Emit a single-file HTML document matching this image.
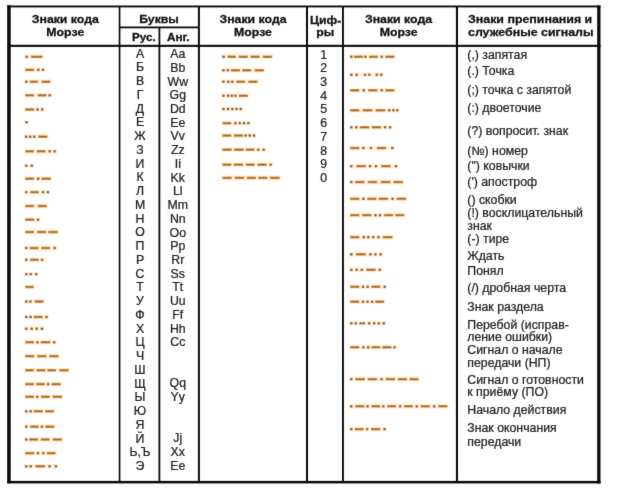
<!DOCTYPE html>
<html lang="ru">
<head>
<meta charset="utf-8">
<title>Азбука Морзе</title>
<style>
html,body{margin:0;padding:0;background:#fff;}
body{width:624px;height:488px;overflow:hidden;position:relative;font-family:"Liberation Sans",Arial,sans-serif;}
#tbl{position:absolute;left:0;top:0;width:624px;height:488px;overflow:hidden;background:#fff;filter:url(#soft);}
#tbl svg{position:absolute;left:0;top:0;}
.t{position:absolute;white-space:nowrap;font-size:12.3px;line-height:14.0px;color:#222;-webkit-text-stroke:0.25px #222;}
.t.b{font-weight:bold;color:#111;-webkit-text-stroke:0.3px #111;}
.t{transform-origin:0 11.26px;transform:scaleY(0.97);}
.t.c{transform-origin:50% 11.26px;transform:translateX(-50%) scaleY(0.97);}
.t.b{transform:scaleY(0.92);}
.t.b.c{transform:translateX(-50%) scaleY(0.92);}
.t.s{font-size:11.7px;}
.t.w{font-size:12.4px;}
.ln{fill:#0a0a0a;}
.h{fill:#96703f;}
.d{fill:#75634f;}
.hg{fill:#f29c44;}
.dg{fill:#efb276;}
.ha{fill:#fdebd6;opacity:.55;}
</style>
</head>
<body>
<div id="tbl">
<svg width="624" height="488" viewBox="0 0 624 488">
<defs><filter id="soft" x="0" y="0" width="100%" height="100%" color-interpolation-filters="sRGB"><feConvolveMatrix order="3" kernelMatrix="0.015 0.06 0.015 0.06 0.70 0.06 0.015 0.06 0.015" divisor="1" edgeMode="duplicate" preserveAlpha="true"/></filter></defs>
<g class="ln">
<rect x="7.2" y="5.5" width="593.3" height="1.9"/>
<rect x="7.2" y="480.9" width="593.3" height="2.5"/>
<rect x="7.2" y="5.3" width="3.5" height="478"/>
<rect x="597.2" y="5.5" width="3.3" height="478"/>
<rect x="7.5" y="44.8" width="593.0" height="2.1"/>
<rect x="118.7" y="6" width="1.7" height="476"/>
<rect x="197.9" y="6" width="2.0" height="476"/>
<rect x="306.0" y="6" width="2.0" height="476"/>
<rect x="342.0" y="6" width="1.9" height="476"/>
<rect x="455.9" y="6" width="2.1" height="476"/>
<rect x="119" y="26.5" width="80" height="1.8"/>
<rect x="158.5" y="27" width="1.8" height="455"/>
</g>
<g id="m1">
<rect class="ha" x="24.2" y="54.2" width="19.7" height="5.2"/>
<rect class="ha" x="23.8" y="67.2" width="21.7" height="5.2"/>
<rect class="ha" x="23.8" y="79.1" width="28.0" height="5.2"/>
<rect class="ha" x="23.8" y="92.7" width="28.3" height="5.2"/>
<rect class="ha" x="23.8" y="106.9" width="20.8" height="5.2"/>
<rect class="ha" x="23.8" y="119.7" width="5.3" height="5.2"/>
<rect class="ha" x="23.8" y="134.1" width="25.0" height="5.2"/>
<rect class="ha" x="23.8" y="148.7" width="33.3" height="5.2"/>
<rect class="ha" x="23.8" y="163.1" width="10.5" height="5.2"/>
<rect class="ha" x="23.8" y="176.1" width="28.3" height="5.2"/>
<rect class="ha" x="23.8" y="189.6" width="26.7" height="5.2"/>
<rect class="ha" x="23.8" y="203.4" width="24.5" height="5.2"/>
<rect class="ha" x="23.8" y="217.1" width="16.7" height="5.2"/>
<rect class="ha" x="23.8" y="229.4" width="35.3" height="5.2"/>
<rect class="ha" x="23.8" y="245.4" width="33.3" height="5.2"/>
<rect class="ha" x="23.8" y="257.2" width="20.8" height="5.2"/>
<rect class="ha" x="23.8" y="271.6" width="15.0" height="5.2"/>
<rect class="ha" x="23.8" y="284.4" width="11.3" height="5.2"/>
<rect class="ha" x="23.8" y="298.9" width="21.2" height="5.2"/>
<rect class="ha" x="23.8" y="314.4" width="25.3" height="5.2"/>
<rect class="ha" x="23.8" y="326.1" width="20.8" height="5.2"/>
<rect class="ha" x="23.8" y="339.7" width="32.8" height="5.2"/>
<rect class="ha" x="23.8" y="353.6" width="36.2" height="5.2"/>
<rect class="ha" x="23.8" y="367.7" width="46.2" height="5.2"/>
<rect class="ha" x="23.8" y="381.6" width="38.3" height="5.2"/>
<rect class="ha" x="23.8" y="394.2" width="39.5" height="5.2"/>
<rect class="ha" x="23.8" y="408.7" width="31.7" height="5.2"/>
<rect class="ha" x="23.8" y="424.1" width="32.0" height="5.2"/>
<rect class="ha" x="23.8" y="436.9" width="39.7" height="5.2"/>
<rect class="ha" x="23.8" y="450.6" width="33.3" height="5.2"/>
<rect class="ha" x="23.8" y="463.7" width="34.7" height="5.2"/>
<rect class="dg" x="25.2" y="55.4" width="3.0" height="2.8"/>
<rect class="hg" x="30.8" y="55.4" width="11.7" height="2.7"/>
<rect class="hg" x="25.1" y="68.5" width="9.1" height="2.7"/>
<rect class="dg" x="36.8" y="68.4" width="3.0" height="2.8"/>
<rect class="dg" x="41.5" y="68.4" width="3.0" height="2.8"/>
<rect class="dg" x="24.8" y="80.3" width="3.0" height="2.8"/>
<rect class="hg" x="29.6" y="80.4" width="8.7" height="2.7"/>
<rect class="hg" x="41.3" y="80.4" width="9.2" height="2.7"/>
<rect class="hg" x="25.1" y="94.0" width="9.1" height="2.7"/>
<rect class="hg" x="37.5" y="94.0" width="9.2" height="2.7"/>
<rect class="dg" x="48.2" y="93.9" width="3.0" height="2.8"/>
<rect class="hg" x="25.1" y="108.2" width="9.1" height="2.7"/>
<rect class="dg" x="36.0" y="108.1" width="3.0" height="2.8"/>
<rect class="dg" x="40.7" y="108.1" width="3.0" height="2.8"/>
<rect class="dg" x="25.0" y="120.9" width="3.0" height="2.8"/>
<rect class="dg" x="24.7" y="135.3" width="3.0" height="2.8"/>
<rect class="dg" x="28.7" y="135.3" width="3.0" height="2.8"/>
<rect class="dg" x="32.8" y="135.3" width="3.0" height="2.8"/>
<rect class="hg" x="38.0" y="135.3" width="9.6" height="2.7"/>
<rect class="hg" x="25.1" y="150.0" width="9.1" height="2.7"/>
<rect class="hg" x="36.6" y="150.0" width="9.2" height="2.7"/>
<rect class="dg" x="48.2" y="149.9" width="3.0" height="2.8"/>
<rect class="dg" x="53.2" y="149.9" width="3.0" height="2.8"/>
<rect class="dg" x="24.8" y="164.3" width="3.0" height="2.8"/>
<rect class="dg" x="30.2" y="164.3" width="3.0" height="2.8"/>
<rect class="hg" x="25.1" y="177.3" width="9.1" height="2.7"/>
<rect class="dg" x="36.7" y="177.3" width="3.0" height="2.8"/>
<rect class="hg" x="41.3" y="177.3" width="9.6" height="2.7"/>
<rect class="dg" x="24.8" y="190.8" width="3.0" height="2.8"/>
<rect class="hg" x="30.0" y="190.8" width="8.9" height="2.7"/>
<rect class="dg" x="41.5" y="190.8" width="3.0" height="2.8"/>
<rect class="dg" x="46.4" y="190.8" width="3.0" height="2.8"/>
<rect class="hg" x="25.1" y="204.7" width="9.1" height="2.7"/>
<rect class="hg" x="37.6" y="204.7" width="9.4" height="2.7"/>
<rect class="hg" x="25.1" y="218.3" width="9.4" height="2.7"/>
<rect class="dg" x="36.5" y="218.3" width="3.0" height="2.8"/>
<rect class="hg" x="25.1" y="230.7" width="9.1" height="2.7"/>
<rect class="hg" x="36.8" y="230.7" width="9.4" height="2.7"/>
<rect class="hg" x="48.0" y="230.7" width="9.9" height="2.7"/>
<rect class="dg" x="24.8" y="246.6" width="3.0" height="2.8"/>
<rect class="hg" x="29.6" y="246.7" width="9.2" height="2.7"/>
<rect class="hg" x="41.0" y="246.7" width="9.4" height="2.7"/>
<rect class="dg" x="53.2" y="246.6" width="3.0" height="2.8"/>
<rect class="dg" x="24.8" y="258.4" width="3.0" height="2.8"/>
<rect class="hg" x="30.0" y="258.4" width="8.9" height="2.7"/>
<rect class="dg" x="40.6" y="258.4" width="3.0" height="2.8"/>
<rect class="dg" x="24.8" y="272.8" width="3.0" height="2.8"/>
<rect class="dg" x="29.2" y="272.8" width="3.0" height="2.8"/>
<rect class="dg" x="34.8" y="272.8" width="3.0" height="2.8"/>
<rect class="hg" x="25.1" y="285.6" width="8.7" height="2.7"/>
<rect class="dg" x="24.8" y="300.1" width="3.0" height="2.8"/>
<rect class="dg" x="28.9" y="300.1" width="3.0" height="2.8"/>
<rect class="hg" x="34.3" y="300.1" width="9.4" height="2.7"/>
<rect class="dg" x="24.8" y="315.6" width="3.0" height="2.8"/>
<rect class="dg" x="29.0" y="315.6" width="3.0" height="2.8"/>
<rect class="hg" x="33.5" y="315.6" width="9.4" height="2.7"/>
<rect class="dg" x="45.0" y="315.6" width="3.0" height="2.8"/>
<rect class="dg" x="24.8" y="327.3" width="3.0" height="2.8"/>
<rect class="dg" x="30.2" y="327.3" width="3.0" height="2.8"/>
<rect class="dg" x="35.2" y="327.3" width="3.0" height="2.8"/>
<rect class="dg" x="40.4" y="327.3" width="3.0" height="2.8"/>
<rect class="hg" x="25.1" y="340.9" width="9.1" height="2.7"/>
<rect class="dg" x="36.0" y="340.9" width="3.0" height="2.8"/>
<rect class="hg" x="40.5" y="340.9" width="9.9" height="2.7"/>
<rect class="dg" x="52.7" y="340.9" width="3.0" height="2.8"/>
<rect class="hg" x="25.1" y="354.8" width="9.4" height="2.7"/>
<rect class="hg" x="37.1" y="354.8" width="9.6" height="2.7"/>
<rect class="hg" x="49.1" y="354.8" width="9.6" height="2.7"/>
<rect class="hg" x="25.1" y="368.9" width="9.1" height="2.7"/>
<rect class="hg" x="36.3" y="368.9" width="9.2" height="2.7"/>
<rect class="hg" x="47.1" y="368.9" width="9.1" height="2.7"/>
<rect class="hg" x="59.1" y="368.9" width="9.6" height="2.7"/>
<rect class="hg" x="25.1" y="382.8" width="9.1" height="2.7"/>
<rect class="hg" x="36.0" y="382.8" width="9.1" height="2.7"/>
<rect class="dg" x="46.6" y="382.8" width="3.0" height="2.8"/>
<rect class="hg" x="51.3" y="382.8" width="9.6" height="2.7"/>
<rect class="hg" x="25.1" y="395.4" width="9.1" height="2.7"/>
<rect class="dg" x="35.8" y="395.4" width="3.0" height="2.8"/>
<rect class="hg" x="40.8" y="395.4" width="9.2" height="2.7"/>
<rect class="hg" x="52.5" y="395.4" width="9.6" height="2.7"/>
<rect class="dg" x="24.8" y="409.9" width="3.0" height="2.8"/>
<rect class="dg" x="29.2" y="409.9" width="3.0" height="2.8"/>
<rect class="hg" x="33.5" y="409.9" width="9.4" height="2.7"/>
<rect class="hg" x="45.0" y="409.9" width="9.2" height="2.7"/>
<rect class="dg" x="24.8" y="425.3" width="3.0" height="2.8"/>
<rect class="hg" x="30.0" y="425.3" width="8.9" height="2.7"/>
<rect class="dg" x="40.4" y="425.3" width="3.0" height="2.8"/>
<rect class="hg" x="45.1" y="425.3" width="9.4" height="2.7"/>
<rect class="dg" x="24.8" y="438.1" width="3.0" height="2.8"/>
<rect class="hg" x="29.1" y="438.1" width="9.2" height="2.7"/>
<rect class="hg" x="40.5" y="438.1" width="9.2" height="2.7"/>
<rect class="hg" x="52.5" y="438.1" width="9.7" height="2.7"/>
<rect class="hg" x="25.1" y="451.8" width="9.4" height="2.7"/>
<rect class="dg" x="36.4" y="451.8" width="3.0" height="2.8"/>
<rect class="dg" x="41.7" y="451.8" width="3.0" height="2.8"/>
<rect class="hg" x="46.6" y="451.8" width="9.2" height="2.7"/>
<rect class="dg" x="24.8" y="464.9" width="3.0" height="2.8"/>
<rect class="dg" x="29.2" y="464.9" width="3.0" height="2.8"/>
<rect class="hg" x="35.1" y="464.9" width="10.2" height="2.7"/>
<rect class="dg" x="48.1" y="464.9" width="3.0" height="2.8"/>
<rect class="dg" x="54.4" y="464.9" width="3.0" height="2.8"/>
<rect class="d" x="25.7" y="55.8" width="2.0" height="1.9"/>
<rect class="h" x="31.5" y="56.1" width="10.3" height="1.4"/>
<rect class="h" x="25.8" y="69.1" width="7.7" height="1.4"/>
<rect class="d" x="37.3" y="68.8" width="2.0" height="1.9"/>
<rect class="d" x="42.0" y="68.8" width="2.0" height="1.9"/>
<rect class="d" x="25.3" y="80.8" width="2.0" height="1.9"/>
<rect class="h" x="30.3" y="81.0" width="7.3" height="1.4"/>
<rect class="h" x="42.0" y="81.0" width="7.8" height="1.4"/>
<rect class="h" x="25.8" y="94.6" width="7.7" height="1.4"/>
<rect class="h" x="38.2" y="94.6" width="7.8" height="1.4"/>
<rect class="d" x="48.7" y="94.3" width="2.0" height="1.9"/>
<rect class="h" x="25.8" y="108.8" width="7.7" height="1.4"/>
<rect class="d" x="36.5" y="108.5" width="2.0" height="1.9"/>
<rect class="d" x="41.2" y="108.5" width="2.0" height="1.9"/>
<rect class="d" x="25.5" y="121.3" width="2.0" height="1.9"/>
<rect class="d" x="25.2" y="135.8" width="2.0" height="1.9"/>
<rect class="d" x="29.2" y="135.8" width="2.0" height="1.9"/>
<rect class="d" x="33.3" y="135.8" width="2.0" height="1.9"/>
<rect class="h" x="38.7" y="136.0" width="8.2" height="1.4"/>
<rect class="h" x="25.8" y="150.6" width="7.7" height="1.4"/>
<rect class="h" x="37.3" y="150.6" width="7.8" height="1.4"/>
<rect class="d" x="48.7" y="150.4" width="2.0" height="1.9"/>
<rect class="d" x="53.7" y="150.4" width="2.0" height="1.9"/>
<rect class="d" x="25.3" y="164.8" width="2.0" height="1.9"/>
<rect class="d" x="30.8" y="164.8" width="2.0" height="1.9"/>
<rect class="h" x="25.8" y="178.0" width="7.7" height="1.4"/>
<rect class="d" x="37.2" y="177.8" width="2.0" height="1.9"/>
<rect class="h" x="42.0" y="178.0" width="8.2" height="1.4"/>
<rect class="d" x="25.3" y="191.2" width="2.0" height="1.9"/>
<rect class="h" x="30.7" y="191.5" width="7.5" height="1.4"/>
<rect class="d" x="42.0" y="191.2" width="2.0" height="1.9"/>
<rect class="d" x="46.9" y="191.2" width="2.0" height="1.9"/>
<rect class="h" x="25.8" y="205.3" width="7.7" height="1.4"/>
<rect class="h" x="38.3" y="205.3" width="8.0" height="1.4"/>
<rect class="h" x="25.8" y="219.0" width="8.0" height="1.4"/>
<rect class="d" x="37.0" y="218.8" width="2.0" height="1.9"/>
<rect class="h" x="25.8" y="231.3" width="7.7" height="1.4"/>
<rect class="h" x="37.5" y="231.3" width="8.0" height="1.4"/>
<rect class="h" x="48.7" y="231.3" width="8.5" height="1.4"/>
<rect class="d" x="25.3" y="247.1" width="2.0" height="1.9"/>
<rect class="h" x="30.3" y="247.3" width="7.8" height="1.4"/>
<rect class="h" x="41.7" y="247.3" width="8.0" height="1.4"/>
<rect class="d" x="53.7" y="247.1" width="2.0" height="1.9"/>
<rect class="d" x="25.3" y="258.9" width="2.0" height="1.9"/>
<rect class="h" x="30.7" y="259.1" width="7.5" height="1.4"/>
<rect class="d" x="41.1" y="258.9" width="2.0" height="1.9"/>
<rect class="d" x="25.3" y="273.2" width="2.0" height="1.9"/>
<rect class="d" x="29.7" y="273.2" width="2.0" height="1.9"/>
<rect class="d" x="35.2" y="273.2" width="2.0" height="1.9"/>
<rect class="h" x="25.8" y="286.3" width="7.3" height="1.4"/>
<rect class="d" x="25.3" y="300.6" width="2.0" height="1.9"/>
<rect class="d" x="29.4" y="300.6" width="2.0" height="1.9"/>
<rect class="h" x="35.0" y="300.8" width="8.0" height="1.4"/>
<rect class="d" x="25.3" y="316.1" width="2.0" height="1.9"/>
<rect class="d" x="29.5" y="316.1" width="2.0" height="1.9"/>
<rect class="h" x="34.2" y="316.3" width="8.0" height="1.4"/>
<rect class="d" x="45.5" y="316.1" width="2.0" height="1.9"/>
<rect class="d" x="25.3" y="327.8" width="2.0" height="1.9"/>
<rect class="d" x="30.8" y="327.8" width="2.0" height="1.9"/>
<rect class="d" x="35.8" y="327.8" width="2.0" height="1.9"/>
<rect class="d" x="40.9" y="327.8" width="2.0" height="1.9"/>
<rect class="h" x="25.8" y="341.6" width="7.7" height="1.4"/>
<rect class="d" x="36.5" y="341.4" width="2.0" height="1.9"/>
<rect class="h" x="41.2" y="341.6" width="8.5" height="1.4"/>
<rect class="d" x="53.2" y="341.4" width="2.0" height="1.9"/>
<rect class="h" x="25.8" y="355.5" width="8.0" height="1.4"/>
<rect class="h" x="37.8" y="355.5" width="8.2" height="1.4"/>
<rect class="h" x="49.8" y="355.5" width="8.2" height="1.4"/>
<rect class="h" x="25.8" y="369.6" width="7.7" height="1.4"/>
<rect class="h" x="37.0" y="369.6" width="7.8" height="1.4"/>
<rect class="h" x="47.8" y="369.6" width="7.7" height="1.4"/>
<rect class="h" x="59.8" y="369.6" width="8.2" height="1.4"/>
<rect class="h" x="25.8" y="383.5" width="7.7" height="1.4"/>
<rect class="h" x="36.7" y="383.5" width="7.7" height="1.4"/>
<rect class="d" x="47.1" y="383.2" width="2.0" height="1.9"/>
<rect class="h" x="52.0" y="383.5" width="8.2" height="1.4"/>
<rect class="h" x="25.8" y="396.1" width="7.7" height="1.4"/>
<rect class="d" x="36.3" y="395.9" width="2.0" height="1.9"/>
<rect class="h" x="41.5" y="396.1" width="7.8" height="1.4"/>
<rect class="h" x="53.2" y="396.1" width="8.2" height="1.4"/>
<rect class="d" x="25.3" y="410.4" width="2.0" height="1.9"/>
<rect class="d" x="29.7" y="410.4" width="2.0" height="1.9"/>
<rect class="h" x="34.2" y="410.6" width="8.0" height="1.4"/>
<rect class="h" x="45.7" y="410.6" width="7.8" height="1.4"/>
<rect class="d" x="25.3" y="425.8" width="2.0" height="1.9"/>
<rect class="h" x="30.7" y="426.0" width="7.5" height="1.4"/>
<rect class="d" x="40.9" y="425.8" width="2.0" height="1.9"/>
<rect class="h" x="45.8" y="426.0" width="8.0" height="1.4"/>
<rect class="d" x="25.3" y="438.6" width="2.0" height="1.9"/>
<rect class="h" x="29.8" y="438.8" width="7.8" height="1.4"/>
<rect class="h" x="41.2" y="438.8" width="7.8" height="1.4"/>
<rect class="h" x="53.2" y="438.8" width="8.3" height="1.4"/>
<rect class="h" x="25.8" y="452.5" width="8.0" height="1.4"/>
<rect class="d" x="36.9" y="452.2" width="2.0" height="1.9"/>
<rect class="d" x="42.2" y="452.2" width="2.0" height="1.9"/>
<rect class="h" x="47.3" y="452.5" width="7.8" height="1.4"/>
<rect class="d" x="25.3" y="465.4" width="2.0" height="1.9"/>
<rect class="d" x="29.7" y="465.4" width="2.0" height="1.9"/>
<rect class="h" x="35.8" y="465.6" width="8.8" height="1.4"/>
<rect class="d" x="48.6" y="465.4" width="2.0" height="1.9"/>
<rect class="d" x="54.9" y="465.4" width="2.0" height="1.9"/>
</g>
<g id="m2">
<rect class="ha" x="221.0" y="54.2" width="52.5" height="5.2"/>
<rect class="ha" x="221.0" y="67.7" width="44.3" height="5.2"/>
<rect class="ha" x="221.0" y="79.1" width="38.0" height="5.2"/>
<rect class="ha" x="221.0" y="93.1" width="28.3" height="5.2"/>
<rect class="ha" x="221.0" y="106.4" width="22.2" height="5.2"/>
<rect class="ha" x="221.0" y="120.6" width="30.0" height="5.2"/>
<rect class="ha" x="221.0" y="132.9" width="35.5" height="5.2"/>
<rect class="ha" x="221.0" y="147.1" width="45.2" height="5.2"/>
<rect class="ha" x="221.0" y="162.1" width="52.2" height="5.2"/>
<rect class="ha" x="221.0" y="175.2" width="60.2" height="5.2"/>
<rect class="dg" x="222.1" y="55.4" width="3.0" height="2.8"/>
<rect class="hg" x="227.3" y="55.4" width="8.7" height="2.7"/>
<rect class="hg" x="238.5" y="55.4" width="9.6" height="2.7"/>
<rect class="hg" x="250.3" y="55.4" width="9.6" height="2.7"/>
<rect class="hg" x="262.6" y="55.4" width="9.6" height="2.7"/>
<rect class="dg" x="222.0" y="68.9" width="3.0" height="2.8"/>
<rect class="dg" x="226.2" y="68.9" width="3.0" height="2.8"/>
<rect class="hg" x="230.6" y="69.0" width="9.6" height="2.7"/>
<rect class="hg" x="242.0" y="69.0" width="9.4" height="2.7"/>
<rect class="hg" x="254.5" y="69.0" width="9.6" height="2.7"/>
<rect class="dg" x="222.0" y="80.3" width="3.0" height="2.8"/>
<rect class="dg" x="226.7" y="80.3" width="3.0" height="2.8"/>
<rect class="dg" x="230.8" y="80.3" width="3.0" height="2.8"/>
<rect class="hg" x="236.0" y="80.4" width="9.2" height="2.7"/>
<rect class="hg" x="248.1" y="80.4" width="9.6" height="2.7"/>
<rect class="dg" x="222.0" y="94.3" width="3.0" height="2.8"/>
<rect class="dg" x="226.5" y="94.3" width="3.0" height="2.8"/>
<rect class="dg" x="230.3" y="94.3" width="3.0" height="2.8"/>
<rect class="dg" x="233.9" y="94.3" width="3.0" height="2.8"/>
<rect class="hg" x="238.6" y="94.4" width="9.4" height="2.7"/>
<rect class="dg" x="222.0" y="107.6" width="3.0" height="2.8"/>
<rect class="dg" x="226.5" y="107.6" width="3.0" height="2.8"/>
<rect class="dg" x="230.8" y="107.6" width="3.0" height="2.8"/>
<rect class="dg" x="235.0" y="107.6" width="3.0" height="2.8"/>
<rect class="dg" x="239.2" y="107.6" width="3.0" height="2.8"/>
<rect class="hg" x="222.3" y="121.9" width="9.2" height="2.7"/>
<rect class="dg" x="233.9" y="121.8" width="3.0" height="2.8"/>
<rect class="dg" x="238.3" y="121.8" width="3.0" height="2.8"/>
<rect class="dg" x="242.5" y="121.8" width="3.0" height="2.8"/>
<rect class="dg" x="246.8" y="121.8" width="3.0" height="2.8"/>
<rect class="hg" x="222.3" y="134.2" width="9.2" height="2.7"/>
<rect class="hg" x="233.6" y="134.2" width="9.6" height="2.7"/>
<rect class="dg" x="244.2" y="134.1" width="3.0" height="2.8"/>
<rect class="dg" x="248.2" y="134.1" width="3.0" height="2.8"/>
<rect class="dg" x="252.5" y="134.1" width="3.0" height="2.8"/>
<rect class="hg" x="222.3" y="148.3" width="9.6" height="2.7"/>
<rect class="hg" x="234.0" y="148.3" width="9.9" height="2.7"/>
<rect class="hg" x="245.6" y="148.3" width="9.1" height="2.7"/>
<rect class="dg" x="256.8" y="148.3" width="3.0" height="2.8"/>
<rect class="dg" x="262.1" y="148.3" width="3.0" height="2.8"/>
<rect class="hg" x="222.3" y="163.3" width="9.2" height="2.7"/>
<rect class="hg" x="233.6" y="163.3" width="9.6" height="2.7"/>
<rect class="hg" x="245.6" y="163.3" width="9.2" height="2.7"/>
<rect class="hg" x="257.3" y="163.3" width="9.6" height="2.7"/>
<rect class="dg" x="269.1" y="163.3" width="3.0" height="2.8"/>
<rect class="hg" x="222.3" y="176.5" width="9.6" height="2.7"/>
<rect class="hg" x="234.5" y="176.5" width="9.9" height="2.7"/>
<rect class="hg" x="246.5" y="176.5" width="9.6" height="2.7"/>
<rect class="hg" x="258.1" y="176.5" width="9.6" height="2.7"/>
<rect class="hg" x="269.8" y="176.5" width="10.1" height="2.7"/>
<rect class="d" x="222.6" y="55.8" width="2.0" height="1.9"/>
<rect class="h" x="228.0" y="56.1" width="7.3" height="1.4"/>
<rect class="h" x="239.2" y="56.1" width="8.2" height="1.4"/>
<rect class="h" x="251.0" y="56.1" width="8.2" height="1.4"/>
<rect class="h" x="263.3" y="56.1" width="8.2" height="1.4"/>
<rect class="d" x="222.5" y="69.3" width="2.0" height="1.9"/>
<rect class="d" x="226.8" y="69.3" width="2.0" height="1.9"/>
<rect class="h" x="231.3" y="69.6" width="8.2" height="1.4"/>
<rect class="h" x="242.7" y="69.6" width="8.0" height="1.4"/>
<rect class="h" x="255.2" y="69.6" width="8.2" height="1.4"/>
<rect class="d" x="222.5" y="80.8" width="2.0" height="1.9"/>
<rect class="d" x="227.2" y="80.8" width="2.0" height="1.9"/>
<rect class="d" x="231.3" y="80.8" width="2.0" height="1.9"/>
<rect class="h" x="236.7" y="81.0" width="7.8" height="1.4"/>
<rect class="h" x="248.8" y="81.0" width="8.2" height="1.4"/>
<rect class="d" x="222.5" y="94.8" width="2.0" height="1.9"/>
<rect class="d" x="227.0" y="94.8" width="2.0" height="1.9"/>
<rect class="d" x="230.8" y="94.8" width="2.0" height="1.9"/>
<rect class="d" x="234.4" y="94.8" width="2.0" height="1.9"/>
<rect class="h" x="239.3" y="95.0" width="8.0" height="1.4"/>
<rect class="d" x="222.5" y="108.0" width="2.0" height="1.9"/>
<rect class="d" x="227.0" y="108.0" width="2.0" height="1.9"/>
<rect class="d" x="231.3" y="108.0" width="2.0" height="1.9"/>
<rect class="d" x="235.5" y="108.0" width="2.0" height="1.9"/>
<rect class="d" x="239.7" y="108.0" width="2.0" height="1.9"/>
<rect class="h" x="223.0" y="122.5" width="7.8" height="1.4"/>
<rect class="d" x="234.4" y="122.2" width="2.0" height="1.9"/>
<rect class="d" x="238.8" y="122.2" width="2.0" height="1.9"/>
<rect class="d" x="243.0" y="122.2" width="2.0" height="1.9"/>
<rect class="d" x="247.3" y="122.2" width="2.0" height="1.9"/>
<rect class="h" x="223.0" y="134.8" width="7.8" height="1.4"/>
<rect class="h" x="234.3" y="134.8" width="8.2" height="1.4"/>
<rect class="d" x="244.7" y="134.6" width="2.0" height="1.9"/>
<rect class="d" x="248.8" y="134.6" width="2.0" height="1.9"/>
<rect class="d" x="253.0" y="134.6" width="2.0" height="1.9"/>
<rect class="h" x="223.0" y="149.0" width="8.2" height="1.4"/>
<rect class="h" x="234.7" y="149.0" width="8.5" height="1.4"/>
<rect class="h" x="246.3" y="149.0" width="7.7" height="1.4"/>
<rect class="d" x="257.3" y="148.8" width="2.0" height="1.9"/>
<rect class="d" x="262.6" y="148.8" width="2.0" height="1.9"/>
<rect class="h" x="223.0" y="164.0" width="7.8" height="1.4"/>
<rect class="h" x="234.3" y="164.0" width="8.2" height="1.4"/>
<rect class="h" x="246.3" y="164.0" width="7.8" height="1.4"/>
<rect class="h" x="258.0" y="164.0" width="8.2" height="1.4"/>
<rect class="d" x="269.6" y="163.8" width="2.0" height="1.9"/>
<rect class="h" x="223.0" y="177.1" width="8.2" height="1.4"/>
<rect class="h" x="235.2" y="177.1" width="8.5" height="1.4"/>
<rect class="h" x="247.2" y="177.1" width="8.2" height="1.4"/>
<rect class="h" x="258.8" y="177.1" width="8.2" height="1.4"/>
<rect class="h" x="270.5" y="177.1" width="8.7" height="1.4"/>
</g>
<g id="m3">
<rect class="ha" x="348.8" y="54.2" width="47.0" height="5.2"/>
<rect class="ha" x="348.8" y="72.2" width="35.0" height="5.2"/>
<rect class="ha" x="348.8" y="87.7" width="47.0" height="5.2"/>
<rect class="ha" x="348.8" y="107.7" width="51.2" height="5.2"/>
<rect class="ha" x="348.8" y="124.7" width="43.8" height="5.2"/>
<rect class="ha" x="348.8" y="145.4" width="46.2" height="5.2"/>
<rect class="ha" x="348.8" y="163.6" width="49.7" height="5.2"/>
<rect class="ha" x="348.8" y="179.4" width="55.5" height="5.2"/>
<rect class="ha" x="348.8" y="196.2" width="58.7" height="5.2"/>
<rect class="ha" x="348.8" y="212.6" width="57.0" height="5.2"/>
<rect class="ha" x="348.8" y="234.6" width="45.0" height="5.2"/>
<rect class="ha" x="348.8" y="251.7" width="34.5" height="5.2"/>
<rect class="ha" x="348.8" y="267.2" width="33.7" height="5.2"/>
<rect class="ha" x="348.8" y="284.2" width="38.3" height="5.2"/>
<rect class="ha" x="348.8" y="299.1" width="36.7" height="5.2"/>
<rect class="ha" x="348.8" y="320.7" width="37.5" height="5.2"/>
<rect class="ha" x="348.8" y="344.7" width="48.3" height="5.2"/>
<rect class="ha" x="348.8" y="376.6" width="71.2" height="5.2"/>
<rect class="ha" x="348.8" y="403.7" width="100.0" height="5.2"/>
<rect class="ha" x="348.8" y="426.6" width="38.3" height="5.2"/>
<rect class="dg" x="349.8" y="55.4" width="3.0" height="2.8"/>
<rect class="hg" x="353.8" y="55.4" width="9.2" height="2.7"/>
<rect class="dg" x="363.8" y="55.4" width="3.0" height="2.8"/>
<rect class="hg" x="368.8" y="55.4" width="9.2" height="2.7"/>
<rect class="dg" x="380.2" y="55.4" width="3.0" height="2.8"/>
<rect class="hg" x="385.1" y="55.4" width="9.4" height="2.7"/>
<rect class="dg" x="349.8" y="73.4" width="3.0" height="2.8"/>
<rect class="dg" x="355.2" y="73.4" width="3.0" height="2.8"/>
<rect class="dg" x="363.5" y="73.4" width="3.0" height="2.8"/>
<rect class="dg" x="367.8" y="73.4" width="3.0" height="2.8"/>
<rect class="dg" x="375.2" y="73.4" width="3.0" height="2.8"/>
<rect class="dg" x="379.8" y="73.4" width="3.0" height="2.8"/>
<rect class="hg" x="350.1" y="89.0" width="9.4" height="2.7"/>
<rect class="dg" x="362.2" y="88.9" width="3.0" height="2.8"/>
<rect class="hg" x="368.0" y="89.0" width="9.6" height="2.7"/>
<rect class="dg" x="380.2" y="88.9" width="3.0" height="2.8"/>
<rect class="hg" x="385.1" y="89.0" width="9.4" height="2.7"/>
<rect class="hg" x="350.1" y="109.0" width="9.4" height="2.7"/>
<rect class="hg" x="362.6" y="109.0" width="9.9" height="2.7"/>
<rect class="hg" x="375.5" y="109.0" width="9.9" height="2.7"/>
<rect class="dg" x="387.7" y="108.9" width="3.0" height="2.8"/>
<rect class="dg" x="391.8" y="108.9" width="3.0" height="2.8"/>
<rect class="dg" x="395.8" y="108.9" width="3.0" height="2.8"/>
<rect class="dg" x="349.8" y="125.9" width="3.0" height="2.8"/>
<rect class="dg" x="354.8" y="125.9" width="3.0" height="2.8"/>
<rect class="hg" x="359.6" y="126.0" width="9.9" height="2.7"/>
<rect class="hg" x="371.6" y="126.0" width="9.6" height="2.7"/>
<rect class="dg" x="383.6" y="125.9" width="3.0" height="2.8"/>
<rect class="dg" x="388.6" y="125.9" width="3.0" height="2.8"/>
<rect class="hg" x="350.1" y="146.7" width="9.4" height="2.7"/>
<rect class="dg" x="361.9" y="146.6" width="3.0" height="2.8"/>
<rect class="dg" x="369.4" y="146.6" width="3.0" height="2.8"/>
<rect class="hg" x="376.6" y="146.7" width="9.6" height="2.7"/>
<rect class="dg" x="390.8" y="146.6" width="3.0" height="2.8"/>
<rect class="dg" x="349.8" y="164.8" width="3.0" height="2.8"/>
<rect class="hg" x="356.3" y="164.8" width="9.6" height="2.7"/>
<rect class="dg" x="368.5" y="164.8" width="3.0" height="2.8"/>
<rect class="dg" x="374.4" y="164.8" width="3.0" height="2.8"/>
<rect class="hg" x="381.0" y="164.8" width="9.9" height="2.7"/>
<rect class="dg" x="394.4" y="164.8" width="3.0" height="2.8"/>
<rect class="dg" x="349.8" y="180.6" width="3.0" height="2.8"/>
<rect class="hg" x="355.0" y="180.7" width="9.7" height="2.7"/>
<rect class="hg" x="367.6" y="180.7" width="9.9" height="2.7"/>
<rect class="hg" x="380.5" y="180.7" width="10.1" height="2.7"/>
<rect class="hg" x="393.3" y="180.7" width="9.7" height="2.7"/>
<rect class="hg" x="350.1" y="197.5" width="9.4" height="2.7"/>
<rect class="dg" x="361.9" y="197.4" width="3.0" height="2.8"/>
<rect class="hg" x="367.1" y="197.5" width="9.6" height="2.7"/>
<rect class="hg" x="378.3" y="197.5" width="10.1" height="2.7"/>
<rect class="dg" x="391.0" y="197.4" width="3.0" height="2.8"/>
<rect class="hg" x="396.3" y="197.5" width="9.9" height="2.7"/>
<rect class="hg" x="350.1" y="213.8" width="9.4" height="2.7"/>
<rect class="hg" x="362.1" y="213.8" width="9.6" height="2.7"/>
<rect class="dg" x="374.0" y="213.8" width="3.0" height="2.8"/>
<rect class="dg" x="378.5" y="213.8" width="3.0" height="2.8"/>
<rect class="hg" x="383.8" y="213.8" width="9.6" height="2.7"/>
<rect class="hg" x="395.1" y="213.8" width="9.4" height="2.7"/>
<rect class="hg" x="350.1" y="235.8" width="9.4" height="2.7"/>
<rect class="dg" x="362.2" y="235.8" width="3.0" height="2.8"/>
<rect class="dg" x="366.8" y="235.8" width="3.0" height="2.8"/>
<rect class="dg" x="371.8" y="235.8" width="3.0" height="2.8"/>
<rect class="dg" x="376.9" y="235.8" width="3.0" height="2.8"/>
<rect class="hg" x="382.6" y="235.8" width="9.9" height="2.7"/>
<rect class="dg" x="349.8" y="252.9" width="3.0" height="2.8"/>
<rect class="hg" x="355.8" y="253.0" width="10.1" height="2.7"/>
<rect class="dg" x="368.9" y="252.9" width="3.0" height="2.8"/>
<rect class="dg" x="373.9" y="252.9" width="3.0" height="2.8"/>
<rect class="dg" x="379.1" y="252.9" width="3.0" height="2.8"/>
<rect class="dg" x="349.8" y="268.4" width="3.0" height="2.8"/>
<rect class="dg" x="355.2" y="268.4" width="3.0" height="2.8"/>
<rect class="dg" x="360.2" y="268.4" width="3.0" height="2.8"/>
<rect class="hg" x="366.0" y="268.4" width="9.9" height="2.7"/>
<rect class="dg" x="378.3" y="268.4" width="3.0" height="2.8"/>
<rect class="hg" x="350.1" y="285.4" width="9.4" height="2.7"/>
<rect class="dg" x="361.5" y="285.4" width="3.0" height="2.8"/>
<rect class="dg" x="366.1" y="285.4" width="3.0" height="2.8"/>
<rect class="hg" x="371.3" y="285.4" width="9.2" height="2.7"/>
<rect class="dg" x="383.2" y="285.4" width="3.0" height="2.8"/>
<rect class="hg" x="350.1" y="300.3" width="9.4" height="2.7"/>
<rect class="dg" x="361.5" y="300.3" width="3.0" height="2.8"/>
<rect class="dg" x="366.1" y="300.3" width="3.0" height="2.8"/>
<rect class="dg" x="370.6" y="300.3" width="3.0" height="2.8"/>
<rect class="hg" x="375.0" y="300.3" width="9.2" height="2.7"/>
<rect class="dg" x="349.8" y="321.9" width="3.0" height="2.8"/>
<rect class="dg" x="354.3" y="321.9" width="3.0" height="2.8"/>
<rect class="dg" x="359.3" y="321.9" width="3.0" height="2.8"/>
<rect class="dg" x="362.2" y="321.9" width="3.0" height="2.8"/>
<rect class="dg" x="367.7" y="321.9" width="3.0" height="2.8"/>
<rect class="dg" x="372.7" y="321.9" width="3.0" height="2.8"/>
<rect class="dg" x="377.3" y="321.9" width="3.0" height="2.8"/>
<rect class="dg" x="382.2" y="321.9" width="3.0" height="2.8"/>
<rect class="hg" x="350.1" y="345.9" width="9.4" height="2.7"/>
<rect class="dg" x="361.9" y="345.9" width="3.0" height="2.8"/>
<rect class="dg" x="366.7" y="345.9" width="3.0" height="2.8"/>
<rect class="hg" x="371.3" y="345.9" width="9.2" height="2.7"/>
<rect class="hg" x="382.1" y="345.9" width="9.6" height="2.7"/>
<rect class="dg" x="393.1" y="345.9" width="3.0" height="2.8"/>
<rect class="dg" x="349.8" y="377.8" width="3.0" height="2.8"/>
<rect class="hg" x="355.1" y="377.8" width="9.9" height="2.7"/>
<rect class="hg" x="367.6" y="377.8" width="9.6" height="2.7"/>
<rect class="dg" x="380.0" y="377.8" width="3.0" height="2.8"/>
<rect class="hg" x="385.5" y="377.8" width="9.6" height="2.7"/>
<rect class="hg" x="397.5" y="377.8" width="9.7" height="2.7"/>
<rect class="hg" x="409.3" y="377.8" width="9.4" height="2.7"/>
<rect class="dg" x="349.8" y="404.9" width="3.0" height="2.8"/>
<rect class="hg" x="355.1" y="404.9" width="9.6" height="2.7"/>
<rect class="dg" x="366.1" y="404.9" width="3.0" height="2.8"/>
<rect class="hg" x="371.3" y="404.9" width="9.1" height="2.7"/>
<rect class="dg" x="381.8" y="404.9" width="3.0" height="2.8"/>
<rect class="hg" x="387.1" y="404.9" width="9.2" height="2.7"/>
<rect class="dg" x="398.6" y="404.9" width="3.0" height="2.8"/>
<rect class="hg" x="403.8" y="404.9" width="9.2" height="2.7"/>
<rect class="dg" x="415.2" y="404.9" width="3.0" height="2.8"/>
<rect class="hg" x="420.5" y="404.9" width="9.6" height="2.7"/>
<rect class="dg" x="432.8" y="404.9" width="3.0" height="2.8"/>
<rect class="hg" x="438.0" y="404.9" width="9.6" height="2.7"/>
<rect class="dg" x="349.8" y="427.8" width="3.0" height="2.8"/>
<rect class="hg" x="354.6" y="427.8" width="9.2" height="2.7"/>
<rect class="dg" x="365.6" y="427.8" width="3.0" height="2.8"/>
<rect class="hg" x="370.8" y="427.8" width="9.6" height="2.7"/>
<rect class="dg" x="383.1" y="427.8" width="3.0" height="2.8"/>
<rect class="d" x="350.3" y="55.8" width="2.0" height="1.9"/>
<rect class="h" x="354.5" y="56.1" width="7.8" height="1.4"/>
<rect class="d" x="364.3" y="55.8" width="2.0" height="1.9"/>
<rect class="h" x="369.5" y="56.1" width="7.8" height="1.4"/>
<rect class="d" x="380.7" y="55.8" width="2.0" height="1.9"/>
<rect class="h" x="385.8" y="56.1" width="8.0" height="1.4"/>
<rect class="d" x="350.3" y="73.8" width="2.0" height="1.9"/>
<rect class="d" x="355.8" y="73.8" width="2.0" height="1.9"/>
<rect class="d" x="364.0" y="73.8" width="2.0" height="1.9"/>
<rect class="d" x="368.2" y="73.8" width="2.0" height="1.9"/>
<rect class="d" x="375.8" y="73.8" width="2.0" height="1.9"/>
<rect class="d" x="380.2" y="73.8" width="2.0" height="1.9"/>
<rect class="h" x="350.8" y="89.6" width="8.0" height="1.4"/>
<rect class="d" x="362.8" y="89.3" width="2.0" height="1.9"/>
<rect class="h" x="368.7" y="89.6" width="8.2" height="1.4"/>
<rect class="d" x="380.8" y="89.3" width="2.0" height="1.9"/>
<rect class="h" x="385.8" y="89.6" width="8.0" height="1.4"/>
<rect class="h" x="350.8" y="109.6" width="8.0" height="1.4"/>
<rect class="h" x="363.3" y="109.6" width="8.5" height="1.4"/>
<rect class="h" x="376.2" y="109.6" width="8.5" height="1.4"/>
<rect class="d" x="388.2" y="109.3" width="2.0" height="1.9"/>
<rect class="d" x="392.3" y="109.3" width="2.0" height="1.9"/>
<rect class="d" x="396.3" y="109.3" width="2.0" height="1.9"/>
<rect class="d" x="350.3" y="126.3" width="2.0" height="1.9"/>
<rect class="d" x="355.2" y="126.3" width="2.0" height="1.9"/>
<rect class="h" x="360.3" y="126.6" width="8.5" height="1.4"/>
<rect class="h" x="372.3" y="126.6" width="8.2" height="1.4"/>
<rect class="d" x="384.1" y="126.3" width="2.0" height="1.9"/>
<rect class="d" x="389.1" y="126.3" width="2.0" height="1.9"/>
<rect class="h" x="350.8" y="147.3" width="8.0" height="1.4"/>
<rect class="d" x="362.4" y="147.1" width="2.0" height="1.9"/>
<rect class="d" x="369.9" y="147.1" width="2.0" height="1.9"/>
<rect class="h" x="377.3" y="147.3" width="8.2" height="1.4"/>
<rect class="d" x="391.3" y="147.1" width="2.0" height="1.9"/>
<rect class="d" x="350.3" y="165.2" width="2.0" height="1.9"/>
<rect class="h" x="357.0" y="165.5" width="8.2" height="1.4"/>
<rect class="d" x="369.0" y="165.2" width="2.0" height="1.9"/>
<rect class="d" x="374.9" y="165.2" width="2.0" height="1.9"/>
<rect class="h" x="381.7" y="165.5" width="8.5" height="1.4"/>
<rect class="d" x="394.9" y="165.2" width="2.0" height="1.9"/>
<rect class="d" x="350.3" y="181.1" width="2.0" height="1.9"/>
<rect class="h" x="355.7" y="181.3" width="8.3" height="1.4"/>
<rect class="h" x="368.3" y="181.3" width="8.5" height="1.4"/>
<rect class="h" x="381.2" y="181.3" width="8.7" height="1.4"/>
<rect class="h" x="394.0" y="181.3" width="8.3" height="1.4"/>
<rect class="h" x="350.8" y="198.1" width="8.0" height="1.4"/>
<rect class="d" x="362.4" y="197.9" width="2.0" height="1.9"/>
<rect class="h" x="367.8" y="198.1" width="8.2" height="1.4"/>
<rect class="h" x="379.0" y="198.1" width="8.7" height="1.4"/>
<rect class="d" x="391.5" y="197.9" width="2.0" height="1.9"/>
<rect class="h" x="397.0" y="198.1" width="8.5" height="1.4"/>
<rect class="h" x="350.8" y="214.5" width="8.0" height="1.4"/>
<rect class="h" x="362.8" y="214.5" width="8.2" height="1.4"/>
<rect class="d" x="374.5" y="214.2" width="2.0" height="1.9"/>
<rect class="d" x="379.0" y="214.2" width="2.0" height="1.9"/>
<rect class="h" x="384.5" y="214.5" width="8.2" height="1.4"/>
<rect class="h" x="395.8" y="214.5" width="8.0" height="1.4"/>
<rect class="h" x="350.8" y="236.5" width="8.0" height="1.4"/>
<rect class="d" x="362.8" y="236.2" width="2.0" height="1.9"/>
<rect class="d" x="367.3" y="236.2" width="2.0" height="1.9"/>
<rect class="d" x="372.3" y="236.2" width="2.0" height="1.9"/>
<rect class="d" x="377.4" y="236.2" width="2.0" height="1.9"/>
<rect class="h" x="383.3" y="236.5" width="8.5" height="1.4"/>
<rect class="d" x="350.3" y="253.4" width="2.0" height="1.9"/>
<rect class="h" x="356.5" y="253.6" width="8.7" height="1.4"/>
<rect class="d" x="369.4" y="253.4" width="2.0" height="1.9"/>
<rect class="d" x="374.4" y="253.4" width="2.0" height="1.9"/>
<rect class="d" x="379.6" y="253.4" width="2.0" height="1.9"/>
<rect class="d" x="350.3" y="268.9" width="2.0" height="1.9"/>
<rect class="d" x="355.7" y="268.9" width="2.0" height="1.9"/>
<rect class="d" x="360.8" y="268.9" width="2.0" height="1.9"/>
<rect class="h" x="366.7" y="269.1" width="8.5" height="1.4"/>
<rect class="d" x="378.8" y="268.9" width="2.0" height="1.9"/>
<rect class="h" x="350.8" y="286.1" width="8.0" height="1.4"/>
<rect class="d" x="362.0" y="285.9" width="2.0" height="1.9"/>
<rect class="d" x="366.6" y="285.9" width="2.0" height="1.9"/>
<rect class="h" x="372.0" y="286.1" width="7.8" height="1.4"/>
<rect class="d" x="383.7" y="285.9" width="2.0" height="1.9"/>
<rect class="h" x="350.8" y="301.0" width="8.0" height="1.4"/>
<rect class="d" x="362.0" y="300.8" width="2.0" height="1.9"/>
<rect class="d" x="366.6" y="300.8" width="2.0" height="1.9"/>
<rect class="d" x="371.1" y="300.8" width="2.0" height="1.9"/>
<rect class="h" x="375.7" y="301.0" width="7.8" height="1.4"/>
<rect class="d" x="350.3" y="322.4" width="2.0" height="1.9"/>
<rect class="d" x="354.8" y="322.4" width="2.0" height="1.9"/>
<rect class="d" x="359.8" y="322.4" width="2.0" height="1.9"/>
<rect class="d" x="362.7" y="322.4" width="2.0" height="1.9"/>
<rect class="d" x="368.2" y="322.4" width="2.0" height="1.9"/>
<rect class="d" x="373.2" y="322.4" width="2.0" height="1.9"/>
<rect class="d" x="377.8" y="322.4" width="2.0" height="1.9"/>
<rect class="d" x="382.8" y="322.4" width="2.0" height="1.9"/>
<rect class="h" x="350.8" y="346.6" width="8.0" height="1.4"/>
<rect class="d" x="362.4" y="346.4" width="2.0" height="1.9"/>
<rect class="d" x="367.2" y="346.4" width="2.0" height="1.9"/>
<rect class="h" x="372.0" y="346.6" width="7.8" height="1.4"/>
<rect class="h" x="382.8" y="346.6" width="8.2" height="1.4"/>
<rect class="d" x="393.6" y="346.4" width="2.0" height="1.9"/>
<rect class="d" x="350.3" y="378.2" width="2.0" height="1.9"/>
<rect class="h" x="355.8" y="378.5" width="8.5" height="1.4"/>
<rect class="h" x="368.3" y="378.5" width="8.2" height="1.4"/>
<rect class="d" x="380.5" y="378.2" width="2.0" height="1.9"/>
<rect class="h" x="386.2" y="378.5" width="8.2" height="1.4"/>
<rect class="h" x="398.2" y="378.5" width="8.3" height="1.4"/>
<rect class="h" x="410.0" y="378.5" width="8.0" height="1.4"/>
<rect class="d" x="350.3" y="405.4" width="2.0" height="1.9"/>
<rect class="h" x="355.8" y="405.6" width="8.2" height="1.4"/>
<rect class="d" x="366.6" y="405.4" width="2.0" height="1.9"/>
<rect class="h" x="372.0" y="405.6" width="7.7" height="1.4"/>
<rect class="d" x="382.3" y="405.4" width="2.0" height="1.9"/>
<rect class="h" x="387.8" y="405.6" width="7.8" height="1.4"/>
<rect class="d" x="399.1" y="405.4" width="2.0" height="1.9"/>
<rect class="h" x="404.5" y="405.6" width="7.8" height="1.4"/>
<rect class="d" x="415.8" y="405.4" width="2.0" height="1.9"/>
<rect class="h" x="421.2" y="405.6" width="8.2" height="1.4"/>
<rect class="d" x="433.2" y="405.4" width="2.0" height="1.9"/>
<rect class="h" x="438.7" y="405.6" width="8.2" height="1.4"/>
<rect class="d" x="350.3" y="428.2" width="2.0" height="1.9"/>
<rect class="h" x="355.3" y="428.5" width="7.8" height="1.4"/>
<rect class="d" x="366.1" y="428.2" width="2.0" height="1.9"/>
<rect class="h" x="371.5" y="428.5" width="8.2" height="1.4"/>
<rect class="d" x="383.6" y="428.2" width="2.0" height="1.9"/>
</g>
</svg>
<div class="t b c" style="left:65.30px;top:12.04px">Знаки кода</div>
<div class="t b c" style="left:65.30px;top:24.54px">Морзе</div>
<div class="t b c" style="left:159.00px;top:12.04px">Буквы</div>
<div class="t b s c" style="left:143.90px;top:29.74px">Рус.</div>
<div class="t b s c" style="left:178.30px;top:29.74px">Анг.</div>
<div class="t b c" style="left:253.00px;top:12.04px">Знаки кода</div>
<div class="t b c" style="left:253.00px;top:24.54px">Морзе</div>
<div class="t b c" style="left:325.70px;top:12.94px">Циф-</div>
<div class="t b c" style="left:325.30px;top:24.54px">ры</div>
<div class="t b c" style="left:398.50px;top:12.04px">Знаки кода</div>
<div class="t b c" style="left:398.70px;top:24.54px">Морзе</div>
<div class="t b w" style="left:468.00px;top:12.04px">Знаки препинания и</div>
<div class="t b w" style="left:468.00px;top:24.54px">служебные сигналы</div>
<div class="t c" style="left:140.00px;top:46.64px">А</div>
<div class="t c" style="left:140.00px;top:60.39px">Б</div>
<div class="t c" style="left:140.00px;top:74.14px">В</div>
<div class="t c" style="left:140.00px;top:87.89px">Г</div>
<div class="t c" style="left:140.00px;top:101.64px">Д</div>
<div class="t c" style="left:140.00px;top:115.39px">Е</div>
<div class="t c" style="left:140.00px;top:129.14px">Ж</div>
<div class="t c" style="left:140.00px;top:142.89px">З</div>
<div class="t c" style="left:140.00px;top:156.64px">И</div>
<div class="t c" style="left:140.00px;top:170.39px">К</div>
<div class="t c" style="left:140.00px;top:184.14px">Л</div>
<div class="t c" style="left:140.00px;top:197.89px">М</div>
<div class="t c" style="left:140.00px;top:211.64px">Н</div>
<div class="t c" style="left:140.00px;top:225.39px">О</div>
<div class="t c" style="left:140.00px;top:239.14px">П</div>
<div class="t c" style="left:140.00px;top:252.89px">Р</div>
<div class="t c" style="left:140.00px;top:266.64px">С</div>
<div class="t c" style="left:140.00px;top:280.39px">Т</div>
<div class="t c" style="left:140.00px;top:294.14px">У</div>
<div class="t c" style="left:140.00px;top:307.89px">Ф</div>
<div class="t c" style="left:140.00px;top:321.64px">Х</div>
<div class="t c" style="left:140.00px;top:335.39px">Ц</div>
<div class="t c" style="left:140.00px;top:349.14px">Ч</div>
<div class="t c" style="left:140.00px;top:362.89px">Ш</div>
<div class="t c" style="left:140.00px;top:376.64px">Щ</div>
<div class="t c" style="left:140.00px;top:390.39px">Ы</div>
<div class="t c" style="left:140.00px;top:404.14px">Ю</div>
<div class="t c" style="left:140.00px;top:417.89px">Я</div>
<div class="t c" style="left:140.00px;top:431.64px">Й</div>
<div class="t c" style="left:140.00px;top:445.39px">Ь,Ъ</div>
<div class="t c" style="left:140.00px;top:459.14px">Э</div>
<div class="t c" style="left:177.80px;top:47.14px">Aa</div>
<div class="t c" style="left:177.80px;top:60.86px">Bb</div>
<div class="t c" style="left:177.80px;top:74.58px">Ww</div>
<div class="t c" style="left:177.80px;top:88.30px">Gg</div>
<div class="t c" style="left:177.80px;top:102.02px">Dd</div>
<div class="t c" style="left:177.80px;top:115.74px">Ee</div>
<div class="t c" style="left:177.80px;top:129.46px">Vv</div>
<div class="t c" style="left:177.80px;top:143.18px">Zz</div>
<div class="t c" style="left:177.80px;top:156.90px">Ii</div>
<div class="t c" style="left:177.80px;top:170.62px">Kk</div>
<div class="t c" style="left:177.80px;top:184.34px">Ll</div>
<div class="t c" style="left:177.80px;top:198.06px">Mm</div>
<div class="t c" style="left:177.80px;top:211.78px">Nn</div>
<div class="t c" style="left:177.80px;top:225.50px">Oo</div>
<div class="t c" style="left:177.80px;top:239.22px">Pp</div>
<div class="t c" style="left:177.80px;top:252.94px">Rr</div>
<div class="t c" style="left:177.80px;top:266.66px">Ss</div>
<div class="t c" style="left:177.80px;top:280.38px">Tt</div>
<div class="t c" style="left:177.80px;top:294.10px">Uu</div>
<div class="t c" style="left:177.80px;top:307.82px">Ff</div>
<div class="t c" style="left:177.80px;top:321.54px">Hh</div>
<div class="t c" style="left:177.80px;top:335.26px">Cc</div>
<div class="t c" style="left:177.80px;top:376.42px">Qq</div>
<div class="t c" style="left:177.80px;top:390.14px">Yy</div>
<div class="t c" style="left:177.80px;top:431.30px">Jj</div>
<div class="t c" style="left:177.80px;top:445.02px">Xx</div>
<div class="t c" style="left:177.80px;top:458.74px">Ee</div>
<div class="t c" style="left:323.70px;top:47.64px">1</div>
<div class="t c" style="left:323.70px;top:61.34px">2</div>
<div class="t c" style="left:323.70px;top:75.04px">3</div>
<div class="t c" style="left:323.70px;top:88.74px">4</div>
<div class="t c" style="left:323.70px;top:102.44px">5</div>
<div class="t c" style="left:323.70px;top:116.14px">6</div>
<div class="t c" style="left:323.70px;top:129.84px">7</div>
<div class="t c" style="left:323.70px;top:143.54px">8</div>
<div class="t c" style="left:323.70px;top:157.24px">9</div>
<div class="t c" style="left:323.70px;top:170.94px">0</div>
<div class="t" style="left:467.30px;top:48.24px">(,) запятая</div>
<div class="t" style="left:467.30px;top:64.14px">(.) Точка</div>
<div class="t" style="left:467.30px;top:82.54px">(;) точка с запятой</div>
<div class="t" style="left:467.30px;top:101.14px">(:) двоеточие</div>
<div class="t" style="left:467.30px;top:123.64px">(?) вопросит. знак</div>
<div class="t" style="left:467.30px;top:144.14px">(№) номер</div>
<div class="t" style="left:467.30px;top:159.39px">(&quot;) ковычки</div>
<div class="t" style="left:467.30px;top:175.39px">(') апостроф</div>
<div class="t" style="left:467.30px;top:192.74px">() скобки</div>
<div class="t" style="left:467.30px;top:205.94px">(!) восклицательный</div>
<div class="t" style="left:467.30px;top:219.04px">знак</div>
<div class="t" style="left:467.30px;top:231.64px">(-) тире</div>
<div class="t" style="left:467.30px;top:248.64px">Ждать</div>
<div class="t" style="left:467.30px;top:264.39px">Понял</div>
<div class="t" style="left:467.30px;top:280.64px">(/) дробная черта</div>
<div class="t" style="left:467.30px;top:299.74px">Знак раздела</div>
<div class="t" style="left:467.30px;top:317.64px">Перебой (исправ-</div>
<div class="t" style="left:467.30px;top:330.14px">ление ошибки)</div>
<div class="t" style="left:467.30px;top:343.14px">Сигнал о начале</div>
<div class="t" style="left:467.30px;top:355.84px">передачи (НП)</div>
<div class="t" style="left:467.30px;top:372.64px">Сигнал о готовности</div>
<div class="t" style="left:467.30px;top:385.14px">к приёму (ПО)</div>
<div class="t" style="left:467.30px;top:402.64px">Начало действия</div>
<div class="t" style="left:467.30px;top:421.39px">Знак окончания</div>
<div class="t" style="left:467.30px;top:434.64px">передачи</div>
</div>
</body>
</html>
